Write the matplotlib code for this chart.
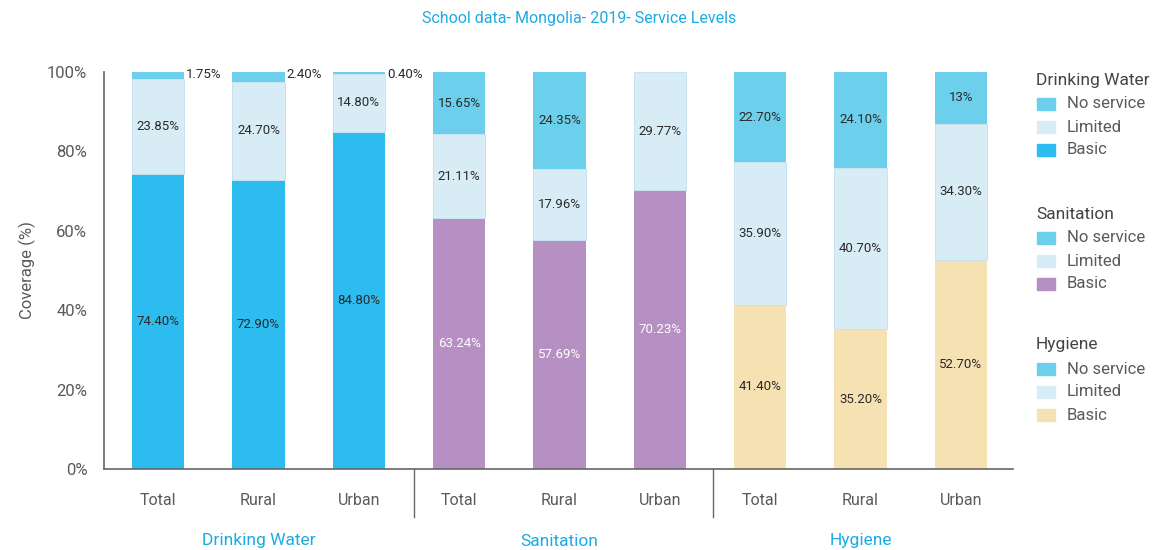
import matplotlib
matplotlib.use("Agg")
import matplotlib.pyplot as plt
from matplotlib.patches import Rectangle
import matplotlib.transforms as mtransforms

plt.rcParams['font.family'] = ['Roboto', 'DejaVu Sans']

# ---- data ----
groups = ["Drinking Water", "Sanitation", "Hygiene"]
areas = ["Total", "Rural", "Urban"]
water_basic = [74.40, 72.90, 84.80]
water_limited = [23.85, 24.70, 14.80]
water_none = [1.75, 2.40, 0.40]
san_basic = [63.24, 57.69, 70.23]
san_limited = [21.11, 17.96, 29.77]
san_none = [15.65, 24.35, 0.0]
hyg_basic = [41.40, 35.20, 52.70]
hyg_limited = [35.90, 40.70, 34.30]
hyg_none = [22.70, 24.10, 13.0]
yticks = [0, 20, 40, 60, 80, 100]
title = "School data- Mongolia- 2019- Service Levels"

# ---- styles ----
C_NONE = "#6CCFEB"
C_LIM = "#D8ECF5"
C_WATER = "#2CBCEF"
C_SAN = "#B690C3"
C_HYG = "#F6E1B3"
C_ACCENT = "#1CABE2"
TXT = "#2a2a2a"
GREY = "#5a5a5a"

fig = plt.figure(figsize=(11.59, 5.5), dpi=100)
ax = fig.add_axes([104/1159, 81/550, (1013-104)/1159, (469-72)/550])

basics = [water_basic, san_basic, hyg_basic]
limiteds = [water_limited, san_limited, hyg_limited]
nones = [water_none, san_none, hyg_none]
basic_cols = [C_WATER, C_SAN, C_HYG]
w = 0.52

for g in range(3):
    for k in range(3):
        x = g * 3 + k
        b, l, n = basics[g][k], limiteds[g][k], nones[g][k]
        ax.bar(x, b, width=w, color=basic_cols[g], linewidth=0)
        ax.bar(x, l, bottom=b, width=w, color=C_LIM, edgecolor="#C6E3F1", linewidth=0.7)
        if n > 0:
            ax.bar(x, n, bottom=b + l, width=w, color=C_NONE, linewidth=0)
        # labels
        ax.text(x, b / 2, f"{b:.2f}%", ha="center", va="center", fontsize=9.5,
                color="white" if g == 1 else TXT)
        ax.text(x, b + l / 2, f"{l:.2f}%", ha="center", va="center", fontsize=9.5, color=TXT)
        if n > 0:
            lab = f"{n:.2f}%" if n != int(n) else f"{int(n)}%"
            if g == 0:
                ax.text(x + w / 2 + 0.02, 99.3, lab, ha="left", va="center", fontsize=9.5, color=TXT)
            else:
                ax.text(x, b + l + n / 2, lab, ha="center", va="center", fontsize=9.5, color=TXT)

ax.set_xlim(-0.54, 8.52)
ax.set_ylim(0, 100)
ax.set_yticks(yticks)
ax.set_yticklabels([f"{t}%" for t in yticks], fontsize=12, color=GREY)
ax.set_xticks(range(9))
ax.set_xticklabels(areas * 3, fontsize=11.5, color=GREY)
ax.tick_params(axis="both", length=0)
ax.tick_params(axis="x", pad=17)
ax.tick_params(axis="y", pad=12)
for s in ["top", "right"]:
    ax.spines[s].set_visible(False)
for s in ["left", "bottom"]:
    ax.spines[s].set_color("#666666")
    ax.spines[s].set_linewidth(1.2)
ax.set_ylabel("Coverage (%)", fontsize=12, color=GREY, labelpad=8)

trans = mtransforms.blended_transform_factory(ax.transData, ax.transAxes)
for xs in [2.55, 5.53]:
    ax.plot([xs, xs], [0, -48/397], transform=trans, color="#666666", lw=1, clip_on=False)
for g in range(3):
    ax.text(g * 3 + 1, -72/397, groups[g], transform=trans, ha="center", va="center",
            fontsize=12.5, color=C_ACCENT)

fig.text(0.5, 1 - 19/550, title, ha="center", va="center", fontsize=11.5, color=C_ACCENT)

# ---- legend ----
leg_titles = groups
leg_basic = basic_cols
title_y = [80, 214, 345]
item_dy = [24, 47, 70]
items = ["No service", "Limited", "Basic"]
for i in range(3):
    fig.text(1036/1159, 1 - title_y[i]/550, leg_titles[i], ha="left", va="center",
             fontsize=12.5, color="#444444")
    cols = [C_NONE, C_LIM, leg_basic[i]]
    for j in range(3):
        yc = title_y[i] + item_dy[j]
        fig.patches.append(Rectangle((1037/1159, 1 - (yc + 6)/550), 18/1159, 12/550,
                                     transform=fig.transFigure, color=cols[j], figure=fig))
        fig.text(1067/1159, 1 - yc/550, items[j], ha="left", va="center",
                 fontsize=12, color=GREY)

fig.savefig("out.png", dpi=100)
